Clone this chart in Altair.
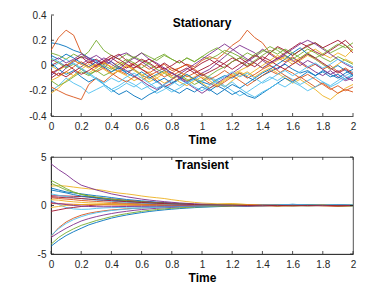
import altair as alt
import pandas as pd

COLORS = ["#0072BD", "#D95319", "#EDB120", "#7E2F8E", "#77AC30", "#4DBEEE", "#A2142F"]
FONT = "Liberation Sans"
AX = "#262626"

# ---------------- Stationary panel data (t = 0, 0.05, ..., 2.0) ----------------
t_stat = [round(i * 0.05, 2) for i in range(41)]
stationary = [
    [0.18,0.17,0.15,0.12,0.10,0.06,0.04,0.01,0.03,-0.02,-0.05,-0.03,-0.08,-0.10,-0.07,-0.04,-0.06,-0.09,-0.12,-0.10,-0.13,-0.15,-0.11,-0.08,-0.10,-0.06,-0.09,-0.12,-0.08,-0.05,-0.02,0.01,-0.03,-0.06,-0.04,-0.08,-0.05,-0.09,-0.07,-0.11,-0.08],
    [0.12,0.22,0.28,0.24,0.10,0.04,0.00,0.03,-0.02,-0.05,-0.01,0.02,-0.03,-0.06,-0.02,0.01,-0.04,-0.02,0.01,-0.01,0.04,0.07,0.05,0.10,0.16,0.20,0.28,0.22,0.18,0.10,0.06,0.03,0.07,0.02,-0.02,0.01,-0.03,0.00,-0.05,-0.02,-0.06],
    [-0.22,-0.18,-0.12,-0.08,-0.03,-0.06,-0.02,0.02,-0.01,0.03,0.00,-0.04,-0.08,-0.05,-0.10,-0.14,-0.11,-0.08,-0.12,-0.09,-0.06,-0.10,-0.13,-0.17,-0.12,-0.08,-0.05,-0.09,-0.05,-0.02,-0.06,-0.10,-0.14,-0.11,-0.15,-0.19,-0.24,-0.27,-0.22,-0.18,-0.15],
    [-0.05,-0.08,-0.02,0.03,0.07,0.05,0.02,-0.02,0.04,0.08,0.10,0.06,0.03,-0.01,-0.05,-0.02,-0.06,-0.09,-0.13,-0.10,-0.06,-0.03,0.02,0.07,0.12,0.16,0.13,0.10,0.04,0.00,-0.03,0.02,0.06,0.03,-0.01,-0.05,-0.08,-0.04,-0.09,-0.12,-0.10],
    [0.10,0.08,0.05,0.09,0.06,0.11,0.20,0.12,0.08,0.05,0.09,0.06,0.10,0.07,0.04,0.08,0.05,0.02,0.06,0.03,0.07,0.05,0.08,0.12,0.10,0.07,0.04,0.09,0.12,0.10,0.14,0.11,0.08,0.12,0.15,0.18,0.14,0.10,0.13,0.16,0.12],
    [-0.20,-0.16,-0.10,-0.14,-0.17,-0.22,-0.19,-0.16,-0.21,-0.18,-0.14,-0.17,-0.13,-0.18,-0.22,-0.19,-0.15,-0.11,-0.14,-0.10,-0.13,-0.09,-0.12,-0.16,-0.20,-0.24,-0.21,-0.17,-0.13,-0.09,-0.12,-0.08,-0.11,-0.15,-0.12,-0.09,-0.13,-0.17,-0.14,-0.10,-0.07],
    [0.00,0.03,-0.01,0.04,0.07,0.02,0.05,0.01,0.06,0.09,0.04,0.00,-0.03,-0.07,-0.12,-0.17,-0.14,-0.10,-0.05,-0.02,0.02,0.05,0.01,-0.02,0.03,0.06,0.02,-0.01,0.04,0.10,0.15,0.12,0.08,0.12,0.16,0.18,0.14,0.17,0.20,0.16,0.10],
    [0.02,-0.03,-0.07,-0.04,-0.09,-0.13,-0.10,-0.15,-0.19,-0.23,-0.20,-0.24,-0.27,-0.23,-0.20,-0.16,-0.19,-0.22,-0.18,-0.21,-0.17,-0.20,-0.16,-0.19,-0.23,-0.20,-0.24,-0.26,-0.22,-0.18,-0.14,-0.10,-0.13,-0.09,-0.05,-0.08,-0.04,-0.07,-0.10,-0.06,-0.03],
    [-0.17,-0.20,-0.23,-0.25,-0.27,-0.15,-0.10,-0.13,-0.08,-0.04,-0.07,-0.02,0.01,-0.03,0.00,-0.04,-0.08,-0.05,-0.09,-0.06,-0.10,-0.14,-0.17,-0.13,-0.09,-0.06,-0.10,-0.07,-0.03,0.00,-0.04,-0.08,-0.12,-0.09,-0.13,-0.17,-0.14,-0.18,-0.22,-0.19,-0.21],
    [-0.12,-0.09,-0.05,-0.08,-0.03,0.01,-0.02,0.02,-0.01,-0.05,-0.08,-0.12,-0.09,-0.13,-0.10,-0.06,-0.02,-0.05,-0.08,-0.11,-0.14,-0.18,-0.15,-0.11,-0.07,-0.04,-0.01,0.02,-0.02,0.01,0.04,0.07,0.03,0.06,0.10,0.13,0.09,0.06,0.10,0.07,0.13],
    [-0.08,-0.03,0.00,0.04,0.01,0.05,0.08,0.04,0.01,-0.03,0.02,0.06,0.10,0.05,0.02,-0.02,-0.06,-0.10,-0.14,-0.18,-0.22,-0.18,-0.14,-0.10,-0.06,-0.02,0.03,0.07,0.13,0.09,0.05,0.08,0.04,0.00,0.04,0.01,-0.03,-0.07,-0.04,-0.09,-0.12],
    [0.05,0.02,-0.02,0.01,-0.03,-0.07,-0.04,-0.08,-0.05,-0.01,0.03,0.07,0.04,0.01,-0.03,-0.06,-0.10,-0.07,-0.11,-0.15,-0.12,-0.08,-0.04,-0.01,0.03,0.06,0.10,0.07,0.11,0.15,0.12,0.08,0.05,0.09,0.13,0.10,0.06,0.03,0.07,0.04,0.01],
    [-0.02,0.02,0.05,0.01,-0.03,-0.07,-0.11,-0.15,-0.19,-0.16,-0.12,-0.15,-0.19,-0.16,-0.13,-0.17,-0.21,-0.18,-0.14,-0.11,-0.07,-0.10,-0.14,-0.17,-0.13,-0.18,-0.22,-0.25,-0.21,-0.18,-0.14,-0.17,-0.13,-0.16,-0.20,-0.17,-0.13,-0.16,-0.12,-0.08,-0.05],
    [-0.10,-0.06,-0.09,-0.05,-0.01,0.03,-0.01,0.03,0.06,0.02,-0.02,0.01,0.05,0.02,-0.02,0.02,-0.02,-0.05,-0.02,-0.06,-0.03,0.00,0.04,0.01,-0.03,0.01,0.04,0.08,0.05,0.02,0.06,0.10,0.14,0.18,0.15,0.11,0.08,0.12,0.16,0.20,0.14],
    [0.08,0.05,0.09,0.06,0.02,-0.01,0.03,-0.01,-0.05,-0.02,-0.06,-0.09,-0.05,-0.09,-0.13,-0.10,-0.14,-0.11,-0.07,-0.11,-0.15,-0.19,-0.23,-0.19,-0.15,-0.18,-0.14,-0.10,-0.06,-0.03,0.01,0.05,0.10,0.14,0.09,0.05,0.01,-0.03,0.00,-0.04,-0.08],
    [-0.04,-0.08,-0.05,-0.01,0.03,-0.01,-0.05,-0.02,-0.06,-0.10,-0.13,-0.09,-0.12,-0.08,-0.05,-0.09,-0.06,-0.02,0.01,-0.03,-0.07,-0.11,-0.08,-0.04,-0.08,-0.12,-0.16,-0.12,-0.08,-0.04,-0.07,-0.03,-0.06,-0.10,-0.07,-0.11,-0.15,-0.19,-0.16,-0.20,-0.17],
    [0.00,-0.04,0.00,0.04,0.01,-0.02,0.01,-0.03,-0.07,-0.04,0.00,-0.03,-0.07,-0.11,-0.08,-0.05,-0.09,-0.13,-0.16,-0.12,-0.09,-0.12,-0.16,-0.12,-0.08,-0.05,-0.08,-0.04,0.00,0.04,0.08,0.05,0.01,0.04,0.08,0.05,0.01,-0.03,0.01,0.05,0.02],
    [0.03,0.06,0.02,0.05,0.09,0.06,0.02,0.06,0.03,-0.01,-0.04,-0.08,-0.12,-0.16,-0.19,-0.15,-0.11,-0.07,-0.03,0.01,0.05,0.09,0.13,0.17,0.13,0.09,0.05,0.02,-0.02,0.02,0.05,0.09,0.13,0.17,0.20,0.17,0.13,0.09,0.05,0.01,-0.02],
    [-0.12,-0.16,-0.13,-0.09,-0.05,-0.08,-0.04,0.00,-0.03,0.01,0.05,0.02,-0.02,0.02,0.06,0.09,0.05,0.02,0.06,0.03,0.07,0.11,0.14,0.10,0.07,0.03,0.00,0.04,0.08,0.12,0.09,0.13,0.10,0.06,0.10,0.06,0.09,0.13,0.17,0.14,0.18],
    [0.06,0.03,-0.01,0.02,-0.02,-0.06,-0.10,-0.14,-0.10,-0.13,-0.09,-0.06,-0.10,-0.14,-0.18,-0.15,-0.12,-0.16,-0.13,-0.17,-0.20,-0.16,-0.12,-0.09,-0.05,-0.09,-0.06,-0.10,-0.14,-0.11,-0.07,-0.04,-0.08,-0.05,-0.01,0.02,-0.02,0.01,0.05,0.02,-0.01],
    [-0.06,-0.03,0.01,-0.03,-0.07,-0.04,0.00,0.04,0.08,0.05,0.01,-0.02,0.02,0.05,0.01,-0.03,0.00,0.04,0.00,-0.04,-0.08,-0.05,-0.02,0.02,0.06,0.03,-0.01,0.03,0.07,0.04,0.00,-0.03,0.01,0.05,0.09,0.06,0.02,-0.02,-0.06,-0.03,-0.07],
]

# ---------------- Transient panel data ----------------
t_trans = [0, 0.05, 0.1, 0.15, 0.2, 0.25, 0.3, 0.35, 0.4, 0.45, 0.5, 0.55, 0.6, 0.65, 0.7,
           0.75, 0.8, 0.85, 0.9, 0.95, 1.0, 1.1, 1.2, 1.3, 1.4, 1.5, 1.6, 1.7, 1.8, 1.9, 2.0]
transient = [
    [1.8,1.6,1.4,1.3,1.2,1.1,1.0,0.92,0.82,0.72,0.62,0.55,0.48,0.42,0.35,0.3,0.25,0.2,0.16,0.12,0.1,0.05,0.02,-0.02,0.0,0.04,-0.01,0.02,0.06,-0.02,0.0],
    [-3.2,-2.3,-1.7,-1.3,-1.0,-0.8,-0.66,-0.55,-0.46,-0.4,-0.34,-0.29,-0.25,-0.21,-0.18,-0.15,-0.13,-0.11,-0.09,-0.08,-0.06,-0.03,0.0,-0.02,0.01,-0.04,0.0,0.02,0.0,-0.06,-0.02],
    [2.0,2.05,2.0,1.9,1.8,1.72,1.65,1.55,1.4,1.28,1.2,1.1,0.98,0.88,0.8,0.72,0.6,0.5,0.4,0.32,0.25,0.18,0.2,0.1,0.05,0.08,0.02,0.04,-0.02,0.0,0.03],
    [4.3,3.7,3.2,2.6,2.1,1.85,1.6,1.4,1.2,1.05,0.9,0.78,0.66,0.56,0.48,0.4,0.33,0.27,0.22,0.17,0.14,0.1,0.05,0.02,-0.02,0.01,-0.03,0.02,0.0,-0.02,0.01],
    [2.6,2.2,1.75,1.4,1.15,0.95,0.8,0.7,0.62,0.55,0.48,0.42,0.36,0.3,0.26,0.22,0.18,0.15,0.12,0.1,0.08,0.04,0.0,-0.03,0.02,-0.02,0.0,-0.04,0.01,-0.01,0.02],
    [0.5,0.1,-0.2,-0.35,-0.4,-0.38,-0.3,-0.25,-0.22,-0.2,-0.18,-0.16,-0.15,-0.13,-0.12,-0.1,-0.09,-0.08,-0.07,-0.06,-0.05,-0.03,0.0,-0.02,0.02,-0.01,0.04,0.1,0.05,0.08,0.02],
    [1.0,1.0,0.98,0.95,0.92,0.88,0.82,0.75,0.68,0.6,0.52,0.46,0.4,0.35,0.3,0.26,0.22,0.18,0.15,0.12,0.1,0.06,0.05,0.03,0.0,0.02,0.0,0.03,0.01,-0.01,0.0],
    [-4.2,-3.6,-3.1,-2.7,-2.35,-2.0,-1.75,-1.52,-1.3,-1.13,-0.98,-0.85,-0.73,-0.62,-0.53,-0.45,-0.38,-0.32,-0.27,-0.22,-0.18,-0.12,-0.06,-0.03,0.0,0.05,0.12,0.06,0.0,0.1,0.03],
    [0.8,0.72,0.66,0.6,0.52,0.47,0.42,0.37,0.33,0.29,0.25,0.22,0.19,0.16,0.14,0.12,0.1,0.08,0.07,0.06,0.05,0.02,0.04,0.0,-0.02,0.01,-0.03,0.0,0.02,-0.05,-0.01],
    [0.6,0.55,0.45,0.38,0.32,0.28,0.25,0.22,0.2,0.18,0.16,0.14,0.12,0.11,0.1,0.08,0.07,0.06,0.05,0.04,0.04,0.08,0.15,0.1,0.02,0.0,0.04,-0.02,0.0,0.05,0.0],
    [-3.3,-2.8,-2.35,-1.95,-1.6,-1.35,-1.15,-0.98,-0.83,-0.7,-0.6,-0.5,-0.42,-0.35,-0.29,-0.24,-0.2,-0.16,-0.13,-0.1,-0.08,-0.04,-0.02,0.0,-0.03,0.01,-0.02,0.0,0.02,-0.01,0.0],
    [-4.0,-3.3,-2.8,-2.4,-2.05,-1.8,-1.55,-1.35,-1.15,-0.98,-0.84,-0.72,-0.6,-0.5,-0.42,-0.35,-0.29,-0.24,-0.2,-0.16,-0.13,-0.08,-0.05,-0.02,0.0,-0.03,0.0,0.02,-0.01,0.0,0.01],
    [-3.1,-2.4,-1.85,-1.45,-1.15,-0.92,-0.75,-0.62,-0.52,-0.44,-0.37,-0.31,-0.26,-0.22,-0.19,-0.16,-0.13,-0.11,-0.09,-0.07,-0.06,-0.02,0.02,-0.01,0.0,0.03,0.12,0.05,0.0,0.1,0.02],
    [-0.6,-0.45,-0.3,-0.2,-0.1,-0.02,0.05,0.1,0.13,0.14,0.14,0.13,0.12,0.11,0.1,0.08,0.07,0.06,0.05,0.04,0.03,0.02,0.0,0.02,0.01,0.03,0.0,-0.01,0.0,0.02,0.0],
    [1.6,1.45,1.3,1.12,0.98,0.86,0.75,0.66,0.58,0.5,0.44,0.38,0.33,0.28,0.24,0.2,0.17,0.14,0.12,0.1,0.08,0.04,0.0,-0.02,0.03,0.0,0.05,0.02,0.0,0.04,-0.03],
    [0.2,0.18,0.15,0.12,0.1,0.09,0.07,0.06,0.05,0.04,0.03,0.02,0.02,0.01,0.01,0.0,0.01,0.0,-0.01,0.0,0.01,0.0,-0.03,0.02,0.0,-0.05,0.0,0.02,-0.02,-0.06,0.0],
    [-0.2,-0.1,0.0,0.05,0.1,0.12,0.13,0.12,0.12,0.1,0.09,0.08,0.07,0.06,0.05,0.05,0.04,0.03,0.03,0.02,0.02,0.0,0.03,-0.02,0.0,0.01,-0.03,0.0,0.02,0.0,-0.01],
    [0.3,0.2,0.1,0.0,-0.05,-0.1,-0.12,-0.13,-0.12,-0.11,-0.1,-0.09,-0.08,-0.07,-0.06,-0.05,-0.05,-0.04,-0.03,-0.03,-0.02,-0.01,0.0,-0.08,-0.02,0.0,0.02,-0.02,0.0,-0.01,0.0],
    [2.3,1.95,1.6,1.35,1.15,1.0,0.88,0.76,0.66,0.58,0.5,0.43,0.37,0.31,0.26,0.22,0.18,0.14,0.11,0.09,0.07,0.03,0.05,0.0,-0.03,0.02,-0.02,0.01,0.03,-0.02,-0.04],
    [1.2,1.05,0.92,0.8,0.72,0.64,0.56,0.5,0.44,0.38,0.33,0.29,0.25,0.22,0.19,0.16,0.14,0.12,0.1,0.08,0.06,0.03,0.0,-0.02,0.01,0.05,0.1,0.03,0.0,0.08,-0.02],
    [0.9,0.85,0.8,0.78,0.72,0.66,0.6,0.55,0.5,0.44,0.4,0.35,0.31,0.27,0.23,0.2,0.17,0.14,0.12,0.1,0.08,0.05,0.03,0.0,0.02,-0.01,0.02,0.0,-0.02,0.01,0.0],
]

x_ticks = [0, 0.2, 0.4, 0.6, 0.8, 1, 1.2, 1.4, 1.6, 1.8, 2]
y_ticks_stat = [-0.4, -0.2, 0, 0.2, 0.4]
y_ticks_trans = [-5, 0, 5]

W = 302
H1 = 101
H2 = 97


def long_df(times, series):
    rows = []
    for k, vals in enumerate(series):
        for i, v in enumerate(vals):
            rows.append({"t": times[i], "v": v, "s": f"s{k:02d}"})
    return pd.DataFrame(rows)


def panel(times, series, ydom, yticks, H, title, box):
    df = long_df(times, series)
    names = [f"s{k:02d}" for k in range(len(series))]
    cols = [COLORS[k % 7] for k in range(len(series))]
    xs = alt.Scale(domain=[0, 2], nice=False, zero=False)
    ys = alt.Scale(domain=ydom, nice=False, zero=False)
    xaxis = alt.Axis(
        values=x_ticks, labelExpr="'' + datum.value", title="Time",
        ticks=False, labelPadding=5, domainColor=AX, domainWidth=0.8,
        labelColor=AX, labelFont=FONT, labelFontSize=10,
        titleFont=FONT, titleFontSize=12, titleFontWeight="bold",
        titleColor="#000000", titlePadding=3, grid=False, labelFlush=False)
    yaxis = alt.Axis(
        values=yticks, labelExpr="'' + datum.value", title=None,
        ticks=False, labelPadding=5, domainColor=AX, domainWidth=0.8,
        labelColor=AX, labelFont=FONT, labelFontSize=10, grid=False)
    X = alt.X("t:Q", scale=xs, axis=xaxis)
    Y = alt.Y("v:Q", scale=ys, axis=yaxis)
    lines = alt.Chart(df).mark_line(strokeWidth=0.9, clip=True).encode(
        x=X, y=Y,
        color=alt.Color("s:N", scale=alt.Scale(domain=names, range=cols), legend=None),
        order=alt.Order("t:Q"),
    )
    xt = pd.DataFrame({"t": x_ticks})
    yt = pd.DataFrame({"v": yticks})
    layers = [lines]
    layers.append(alt.Chart(xt).mark_rule(color=AX, strokeWidth=0.8).encode(
        x=X, y=alt.value(H), y2=alt.value(H - 3)))
    layers.append(alt.Chart(yt).mark_rule(color=AX, strokeWidth=0.8).encode(
        y=Y, x=alt.value(0), x2=alt.value(3)))
    if box:
        layers.append(alt.Chart(xt).mark_rule(color=AX, strokeWidth=0.8).encode(
            x=X, y=alt.value(0), y2=alt.value(3)))
        layers.append(alt.Chart(yt).mark_rule(color=AX, strokeWidth=0.8).encode(
            y=Y, x=alt.value(W), x2=alt.value(W - 3)))
    view = alt.ViewBackground(stroke=AX, strokeWidth=0.8) if box else alt.ViewBackground(stroke=None)
    return alt.layer(*layers).properties(
        width=W, height=H, view=view,
        title=alt.TitleParams(title, font=FONT, fontSize=12, fontWeight="bold",
                              color="#000000", anchor="middle", offset=-20),
    )


top = panel(t_stat, stationary, [-0.4, 0.4], y_ticks_stat, H1, "Stationary", False)
bottom = panel(t_trans, transient, [-5, 5], y_ticks_trans, H2, "Transient", True)

chart = alt.vconcat(top, bottom, spacing=6).properties(
    padding={"left": 20, "top": 2, "right": 5, "bottom": 2},
    background="#ffffff",
).configure_view(strokeWidth=0.8)

chart.save("out.html", embed_options={"renderer": "svg", "actions": False})
